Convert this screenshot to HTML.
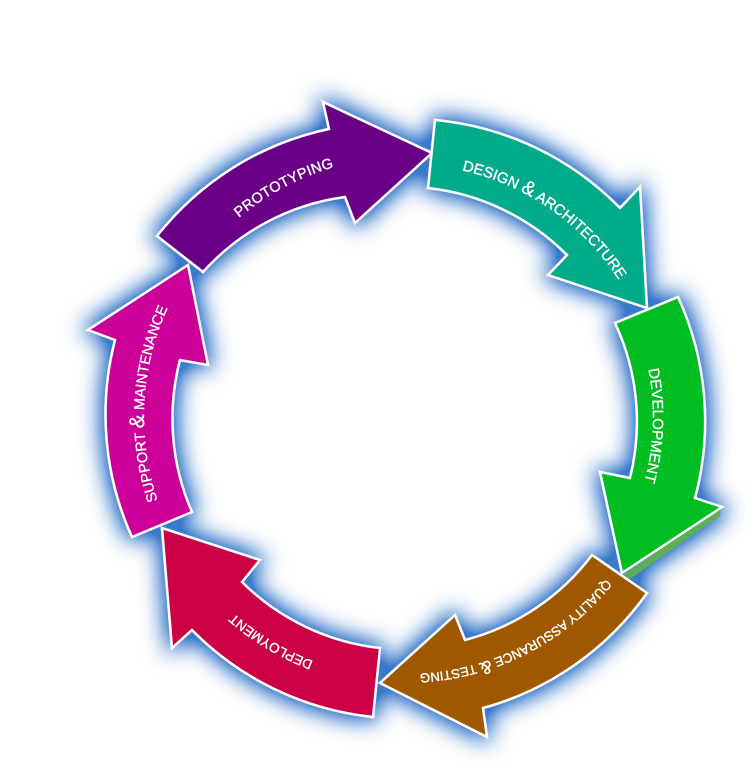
<!DOCTYPE html>
<html>
<head>
<meta charset="utf-8">
<style>
  html,body{margin:0;padding:0;background:#fff;}
  body{width:755px;height:775px;overflow:hidden;}
  svg{display:block;}
  .lbl{font-family:"Liberation Sans","DejaVu Sans",sans-serif;fill:#fff;stroke:#fff;stroke-width:0.35;}
</style>
</head>
<body>
<svg width="755" height="775" viewBox="0 0 755 775" xmlns="http://www.w3.org/2000/svg">
  <defs>
    <filter id="glow" x="-30%" y="-30%" width="160%" height="160%">
      <feMorphology in="SourceAlpha" operator="dilate" radius="2" result="d"/>
      <feGaussianBlur in="d" stdDeviation="12" result="b"/>
      <feComponentTransfer in="b" result="b2">
        <feFuncA type="linear" slope="1.5"/>
      </feComponentTransfer>
      <feFlood flood-color="#3a7acb" flood-opacity="1"/>
      <feComposite in2="b2" operator="in" result="g"/>
      <feMerge>
        <feMergeNode in="g"/>
        <feMergeNode in="SourceGraphic"/>
      </feMerge>
    </filter>
    <path id="tp1" d="M164.9,319.6 A260,260 0 0 1 460.1,162.7" fill="none"/>
    <path id="tp2" d="M383.9,165.0 A253,253 0 0 1 650.4,351.5" fill="none"/>
    <path id="tp3" d="M600.6,264.9 A247,247 0 0 1 589.5,582.3" fill="none"/>
    <path id="tp4" d="M642.6,517.4 A257,257 0 0 1 348.2,667.4" fill="none"/>
    <path id="tp5" d="M446.8,674.8 A261,261 0 0 1 159.2,502.0" fill="none"/>
    <path id="tp6" d="M196.8,574.7 A262,262 0 0 1 214.4,238.3" fill="none"/>
  </defs>

  <g filter="url(#glow)" stroke="#ffffff" stroke-width="2.5" stroke-linejoin="miter">
    <!-- Prototyping -->
    <path d="M157,236 A297,297 0 0 1 329,129 L323,102 L432,153 L355,223 L345,197 A232,232 0 0 0 203,272 Z" fill="#6a0086"/>
    <!-- Design & Architecture -->
    <path d="M435,120 A297,297 0 0 1 620,208 L640,187 L647,308 L548,275 L567,255 A232,232 0 0 0 428,188 Z" fill="#00aa8b"/>
    <!-- Development shadow strip -->
    <path d="M721,508 L624,574 L627,581 L720,516 Z" fill="#5cae58" stroke="none"/>
    <!-- Development -->
    <path d="M678,297 A297,297 0 0 1 695,498 L722,507 L622,573 L600,472 L630,478 A232,232 0 0 0 615,323 Z" fill="#00bd20"/>
    <!-- Quality Assurance & Testing -->
    <path d="M647,593 A297,297 0 0 1 483,708 L487,737 L380,683 L455,615 L465,640 A232,232 0 0 0 592,555 Z" fill="#9f5900"/>
    <!-- Deployment -->
    <path d="M373,717 A297,297 0 0 1 192,630 L172,648 L162,528 L260,560 L242,582 A232,232 0 0 0 380,648 Z" fill="#cc0044"/>
    <!-- Support & Maintenance -->
    <path d="M132,537 A297,297 0 0 1 115,340 L88,330 L188,265 L208,365 L180,360 A232,232 0 0 0 192,512 Z" fill="#cc0099"/>
  </g>

  <text class="lbl" font-size="14.5" text-anchor="middle" letter-spacing="0.3">
    <textPath href="#tp1" startOffset="50%">PROTOTYPING</textPath>
  </text>
  <text class="lbl" font-size="15" text-anchor="middle">
    <textPath href="#tp2" startOffset="50%">DESIGN <tspan font-size="20">&amp;</tspan> ARCHITECTURE</textPath>
  </text>
  <text class="lbl" font-size="15" text-anchor="middle">
    <textPath href="#tp3" startOffset="50%">DEVELOPMENT</textPath>
  </text>
  <text class="lbl" font-size="13" text-anchor="middle">
    <textPath href="#tp4" startOffset="50%">QUALITY ASSURANCE <tspan font-size="18">&amp;</tspan> TESTING</textPath>
  </text>
  <text class="lbl" font-size="13.5" text-anchor="middle">
    <textPath href="#tp5" startOffset="50%">DEPLOYMENT</textPath>
  </text>
  <text class="lbl" font-size="14.5" text-anchor="middle">
    <textPath href="#tp6" startOffset="50%">SUPPORT <tspan font-size="21">&amp;</tspan> MAINTENANCE</textPath>
  </text>
</svg>
</body>
</html>
